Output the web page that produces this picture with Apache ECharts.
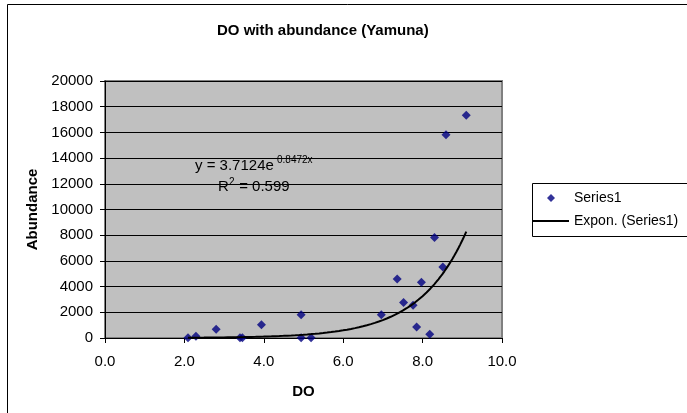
<!DOCTYPE html>
<html>
<head>
<meta charset="utf-8">
<script src="https://cdn.jsdelivr.net/npm/echarts@6/dist/echarts.min.js"></script>
<style>
html,body{margin:0;padding:0;background:#fff;}
#chart{width:687px;height:413px;}
</style>
</head>
<body>
<div id="chart"></div>
<script>
// DO (x) and abundance (y) values
const doValues = [2.09, 2.29, 2.80, 3.40, 3.46, 3.94, 4.94, 4.94, 5.19, 6.96, 7.36, 7.52, 7.76, 7.85, 7.97, 8.18, 8.30, 8.51, 8.59, 9.10];
const abundance = [20, 130, 680, 10, 10, 1040, 1800, 10, 10, 1800, 4600, 2760, 2550, 860, 4340, 290, 7820, 5530, 15820, 17330];
// Exponential trendline coefficients as printed on the chart
const trendA = 3.7124;
const trendB = 0.8472;
const trendR2 = '0.599';
const xTicks = [0, 2, 4, 6, 8, 10];
const yTicks = [0, 2000, 4000, 6000, 8000, 10000, 12000, 14000, 16000, 18000, 20000];
const titleText = 'DO with abundance (Yamuna)';
const seriesName = 'Series1';
const trendName = 'Expon. (Series1)';

const scatterData = doValues.map((x, i) => [x, abundance[i]]);
const xMinData = Math.min(...doValues), xMaxData = Math.max(...doValues);
const trendData = [];
const steps = 140;
for (let i = 0; i <= steps; i++) {
  const x = xMinData + (xMaxData - xMinData) * i / steps;
  trendData.push([x, trendA * Math.exp(trendB * x)]);
}

const FONT = 'Liberation Sans, Arial, sans-serif';
const txt = (text, left, cy, size) => ({
  type: 'text', left: left, top: cy - size / 2, z: 100, silent: true,
  style: {text: text, fontFamily: FONT, fontSize: size, fill: '#000'}
});
const chart = echarts.init(document.getElementById('chart'), null, {renderer: 'canvas'});
chart.setOption({
  backgroundColor: '#ffffff',
  animation: false,
  title: {
    text: titleText,
    left: 217, top: 23,
    padding: 0,
    textStyle: {fontFamily: FONT, fontSize: 15, fontWeight: 'bold', color: '#000'}
  },
  grid: {
    left: 105, top: 81, right: 185, bottom: 75,
    show: true, backgroundColor: '#C0C0C0', borderColor: '#808080', borderWidth: 2
  },
  xAxis: {
    type: 'value', min: xTicks[0], max: xTicks[xTicks.length - 1], interval: 2,
    name: 'DO', nameLocation: 'middle', nameGap: 46,
    nameTextStyle: {fontFamily: FONT, fontSize: 15, fontWeight: 'bold', color: '#000'},
    axisLine: {show: true, onZero: false, lineStyle: {color: '#000', width: 1}},
    axisTick: {show: true, inside: false, length: 5, lineStyle: {color: '#000'}},
    axisLabel: {margin: 16, fontFamily: FONT, fontSize: 15, color: '#000', formatter: v => v.toFixed(1)},
    splitLine: {show: false}
  },
  yAxis: {
    type: 'value', min: yTicks[0], max: yTicks[yTicks.length - 1], interval: 2000,
    name: 'Abundance', nameLocation: 'middle', nameGap: 59, nameRotate: 90,
    nameTextStyle: {fontFamily: FONT, fontSize: 15, fontWeight: 'bold', color: '#000'},
    axisLine: {show: true, onZero: false, lineStyle: {color: '#000', width: 1}},
    axisTick: {show: true, inside: false, length: 5, lineStyle: {color: '#000'}},
    axisLabel: {margin: 12, fontFamily: FONT, fontSize: 15, color: '#000', formatter: v => String(v)},
    splitLine: {show: true, lineStyle: {color: '#000', width: 1}}
  },
  legend: {
    orient: 'vertical',
    left: 533, top: 184,
    itemWidth: 36, itemHeight: 8, itemGap: 9,
    padding: [7, 0, 4, 0],
    borderWidth: 0,
    textStyle: {fontFamily: FONT, fontSize: 14, color: '#000'},
    data: [
      {name: seriesName, icon: 'path://M4,0L8,4L4,8L0,4Z'},
      {name: trendName, icon: 'path://M0,0L36,0L36,2L0,2Z'}
    ]
  },
  graphic: [
    {type: 'polyline', shape: {points: [[760, 4.5], [7.5, 4.5], [7.5, 460]]}, style: {fill: 'none', stroke: '#000', lineWidth: 1}, silent: true, z: 100},
    {type: 'polyline', shape: {points: [[760, 183.5], [532.5, 183.5], [532.5, 236.5], [760, 236.5]]}, style: {fill: 'none', stroke: '#000', lineWidth: 1}, silent: true, z: 100},
    txt('y = ' + trendA + 'e', 195, 166, 15),
    txt(String(trendB) + 'x', 277, 160, 10),
    txt('R', 218, 187, 15),
    txt('2', 229, 182, 10),
    txt(' = ' + trendR2, 235, 187, 15)
  ],
  series: [
    {
      name: seriesName, type: 'scatter', data: scatterData,
      symbol: 'diamond', symbolSize: 9,
      itemStyle: {color: '#000080'}, z: 3
    },
    {
      name: trendName, type: 'line', data: trendData,
      showSymbol: false, symbol: 'none', smooth: false,
      lineStyle: {color: '#000', width: 2}, itemStyle: {color: '#000'}, z: 4
    }
  ]
});
</script>
</body>
</html>
